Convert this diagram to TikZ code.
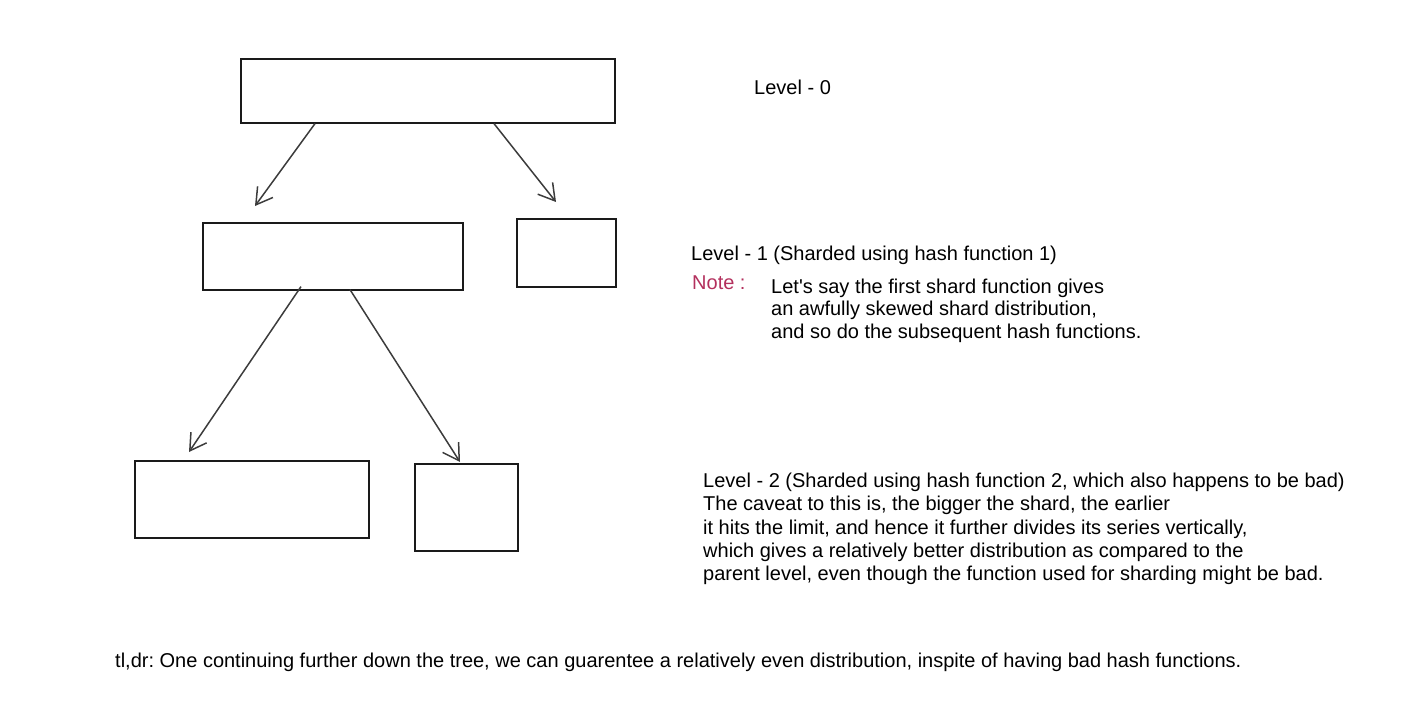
\documentclass[tikz,border=0pt]{standalone}
\usepackage{fontspec}
\setmainfont{Liberation Sans}
\usetikzlibrary{arrows.meta,calc}
\definecolor{notecol}{HTML}{B3305D}
\definecolor{ink}{HTML}{1A1A1A}
\frenchspacing
\begin{document}
\begin{tikzpicture}[x=1pt,y=-1pt,
  shard/.style={draw=ink,line width=1.6pt,minimum width=#1,inner sep=0pt,anchor=north west},
  link/.style={draw=ink!85,line width=1.5pt,-{Straight Barb[length=16pt,width=19pt,line width=1.5pt]}},
  txt/.style={anchor=base west,inner sep=0pt,font=\fontsize{20}{23}\selectfont,text=black}]
\useasboundingbox (0,0) rectangle (1416,709);
% boxes
\node[shard=374pt,minimum height=64pt] (r) at (240,58) {};
\node[shard=260pt,minimum height=67pt] (a) at (202,222) {};
\node[shard=99pt,minimum height=68pt] (b) at (516,218) {};
\node[shard=234pt,minimum height=77pt] (c) at (134,460) {};
\node[shard=103pt,minimum height=87pt] (d) at (414,463) {};
% arrows
\draw[link] ([xshift=75pt]r.south west) -- ([xshift=53pt,yshift=16pt]a.north west);
\draw[link] ([xshift=254pt]r.south west) -- ([xshift=40pt,yshift=16pt]b.north west);
\draw[link] ([xshift=99pt,yshift=4pt]a.south west) -- ([xshift=55pt,yshift=8pt]c.north west);
\draw[link] ([xshift=148pt,yshift=1pt]a.south west) -- ([xshift=46pt,yshift=1pt]d.north west);
% texts
\node[txt] (l0) at (754,95) {Level - 0};
\node[txt] (l1) at (691,260) {Level - 1 (Sharded using hash function 1)};
\node[txt,text=notecol] (nt) at (692,289) {Note :};
\node[txt] (n1) at (771,293) {Let\textquotesingle s say the first shard function gives};
\node[txt] (n2) at (771,315.5) {an awfully skewed shard distribution,};
\node[txt] (n3) at (771,338) {and so do the subsequent hash functions.};
\node[txt] (m1) at (703,487.5) {Level - 2 (Sharded using hash function 2, which also happens to be bad)};
\node[txt] (m2) at (703,510.8) {The caveat to this is, the bigger the shard, the earlier};
\node[txt] (m3) at (703,534.1) {it hits the limit, and hence it further divides its series vertically,};
\node[txt] (m4) at (703,557.4) {which gives a relatively better distribution as compared to the};
\node[txt] (m5) at (703,580.7) {parent level, even though the function used for sharding might be bad.};
\node[txt] (tl) at (115,667) {tl,dr: One continuing further down the tree, we can guarentee a relatively even distribution, inspite of having bad hash functions.};
\end{tikzpicture}
\end{document}
